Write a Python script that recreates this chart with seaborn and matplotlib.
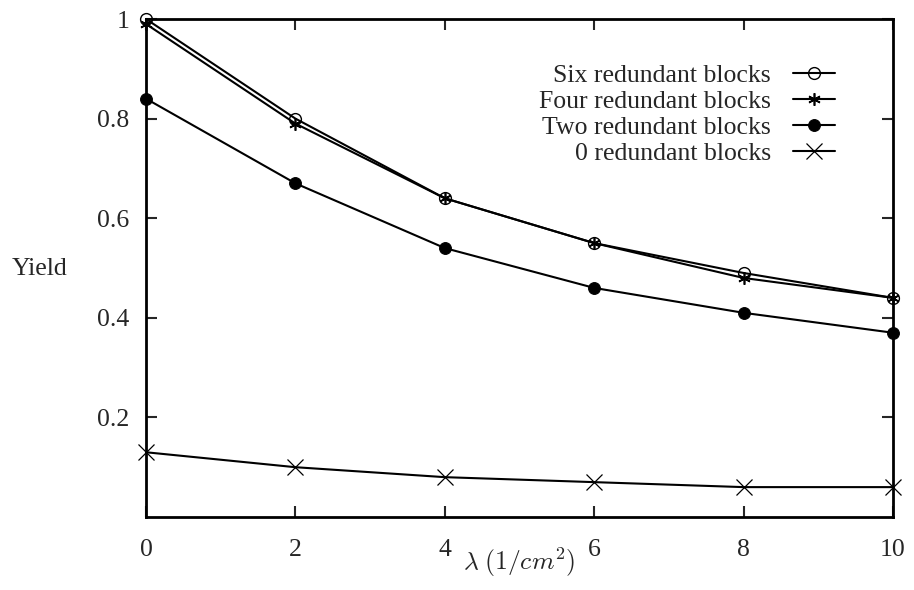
import matplotlib
matplotlib.use("Agg")
import matplotlib.pyplot as plt
import seaborn as sns
import pandas as pd

lam = [0, 2, 4, 6, 8, 10]
six = [1.00, 0.80, 0.64, 0.55, 0.49, 0.44]
four = [0.99, 0.79, 0.64, 0.55, 0.48, 0.44]
two = [0.84, 0.67, 0.54, 0.46, 0.41, 0.37]
zero = [0.13, 0.10, 0.08, 0.07, 0.06, 0.06]
labels = ["Six redundant blocks", "Four redundant blocks", "Two redundant blocks", "0 redundant blocks"]
xticks = [0, 2, 4, 6, 8, 10]
yticks = [0.2, 0.4, 0.6, 0.8, 1.0]
yticklabels = ["0.2", "0.4", "0.6", "0.8", "1"]

sns.set_theme(style="ticks")
plt.rcParams['font.family'] = ['Liberation Serif', 'DejaVu Serif']
plt.rcParams['mathtext.fontset'] = 'cm'

FS = 18.5
fig = plt.figure(figsize=(9.14, 5.9), dpi=100)
ax = fig.add_axes([146 / 914, 1 - 517 / 590, (893 - 146) / 914, (517 - 19) / 590])

styles = [
    dict(marker='o', markerfacecolor='none', markeredgecolor='black', markersize=8.5, markeredgewidth=1.0),
    dict(marker=(6, 2, 0), markersize=9, markeredgewidth=1.2, markeredgecolor='black'),
    dict(marker='o', markerfacecolor='black', markeredgecolor='black', markersize=8.5),
    dict(marker='x', markersize=11, markeredgewidth=0.9, markeredgecolor='black'),
]
for vals, lab, st in zip([six, four, two, zero], labels, styles):
    df = pd.DataFrame({"lam": lam, "y": vals})
    sns.lineplot(data=df, x="lam", y="y", ax=ax, color='black', linewidth=1.5,
                 label=lab, clip_on=False, zorder=3, **st)

ax.set_xlim(0, 10)
ax.set_ylim(0, 1)
ax.set_xticks(xticks)
ax.set_xticklabels([str(t) for t in xticks])
ax.set_yticks(yticks)
ax.set_yticklabels(yticklabels)
ax.tick_params(direction='in', length=8, width=1.5, labelsize=FS, top=True, right=True)
ax.tick_params(axis='x', pad=16)
ax.tick_params(axis='y', pad=12)
for s in ax.spines.values():
    s.set_linewidth(2)
    s.set_color('black')
    s.set_zorder(2)
ax.set_xlabel(r"$\lambda\;(1/cm^2)$", fontsize=FS, labelpad=-11)
ax.set_ylabel("Yield", fontsize=FS, rotation=0, va='center', ha='center')
ax.yaxis.set_label_coords(-(146 - 40) / 747, (517 - 269) / 498)

leg = ax.legend(loc='upper right', bbox_to_anchor=(0.936, 0.93), frameon=False, markerfirst=False,
                fontsize=FS, handlelength=1.65, labelspacing=0.12, handletextpad=0.85, borderaxespad=0)
for t in leg.get_texts():
    t.set_ha('right')
fig.savefig("out.png", dpi=100)
